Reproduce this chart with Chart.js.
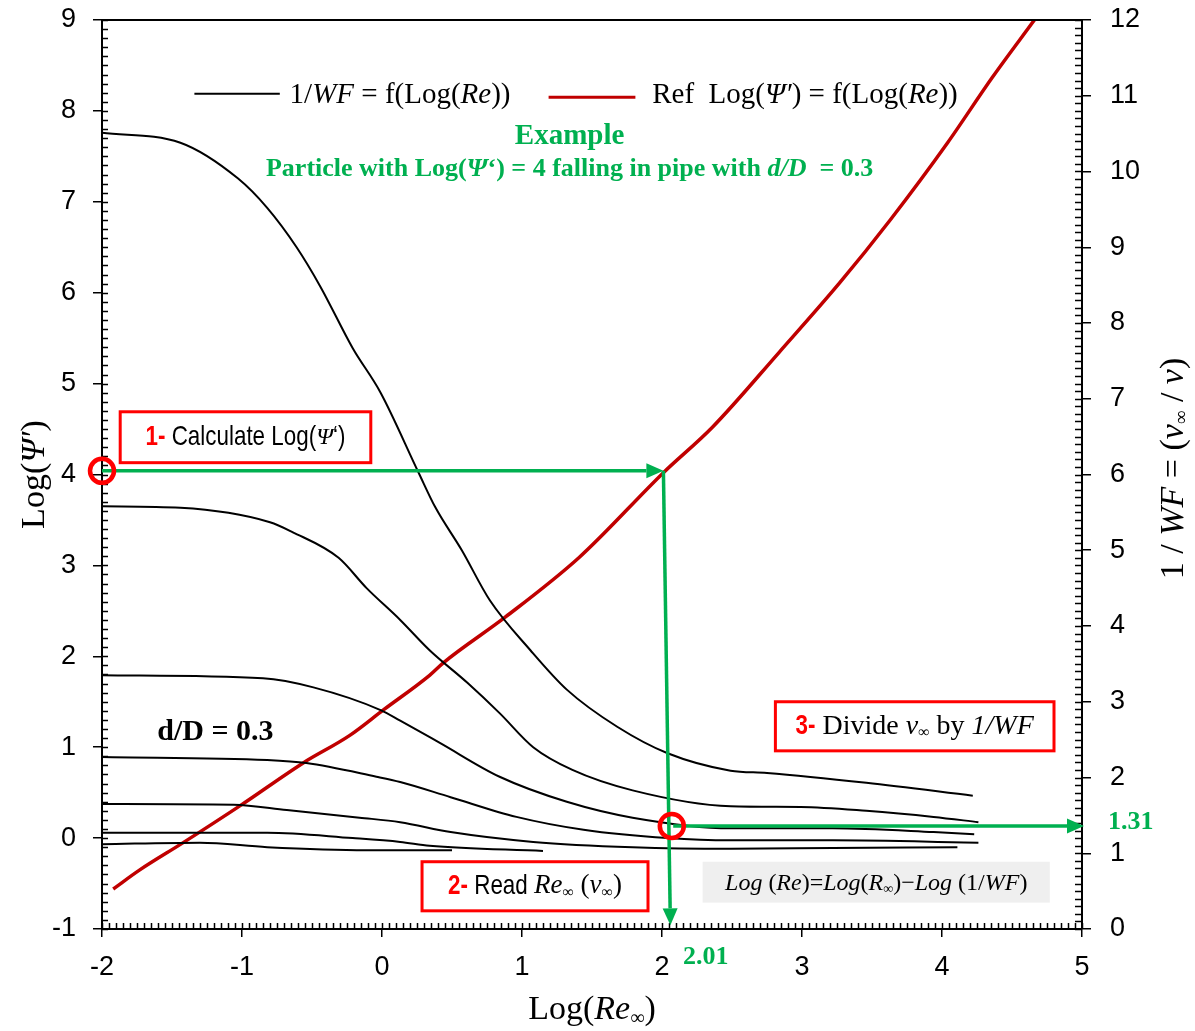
<!DOCTYPE html>
<html>
<head>
<meta charset="utf-8">
<script src="https://cdn.jsdelivr.net/npm/chart.js@4.4.1/dist/chart.umd.min.js"></script>
<style>
  html, body { margin: 0; padding: 0; background: #fff; }
  #wrap { width: 1195px; height: 1031px; position: relative; }
</style>
</head>
<body>
<div id="wrap"><canvas id="chart"></canvas></div>
<script>
// ---- data ----
// black curves: 1/WF vs Log(Re)  (right axis)
const wfX1 = [-2.00, -1.44, -1.03, -0.82, -0.61, -0.44, -0.21, -0.01, 0.26, 0.38, 0.57, 0.77, 1.06, 1.32, 1.68, 2.04, 2.49, 2.75, 3.46, 4.22];
const wfY1 = [10.51, 10.38, 9.91, 9.52, 9.00, 8.48, 7.67, 7.08, 6.03, 5.57, 5.00, 4.34, 3.68, 3.16, 2.67, 2.32, 2.09, 2.06, 1.93, 1.76];
const wfX2 = [-2.00, -1.44, -0.80, -0.64, -0.31, -0.11, 0.13, 0.34, 0.61, 0.84, 1.08, 1.36, 1.79, 2.49, 2.99, 3.46, 3.94, 4.26];
const wfY2 = [5.58, 5.56, 5.37, 5.24, 4.90, 4.50, 4.08, 3.68, 3.25, 2.85, 2.40, 2.10, 1.83, 1.62, 1.61, 1.56, 1.48, 1.41];
const wfX3 = [-2.00, -0.85, -0.49, -0.01, 0.13, 0.41, 0.84, 1.32, 1.79, 2.49, 3.22, 3.94, 4.23];
const wfY3 = [3.35, 3.31, 3.19, 2.89, 2.75, 2.46, 2.01, 1.68, 1.47, 1.33, 1.33, 1.28, 1.25];
const wfX4 = [-2.00, -0.82, -0.54, -0.04, 0.13, 0.49, 0.96, 1.44, 2.04, 2.49, 3.22, 4.26];
const wfY4 = [2.27, 2.23, 2.19, 2.01, 1.94, 1.74, 1.48, 1.31, 1.20, 1.17, 1.17, 1.14];
const wfX5 = [-2.00, -1.06, -0.68, -0.16, 0.13, 0.49, 1.08, 1.79, 2.49, 3.22, 4.11];
const wfY5 = [1.65, 1.64, 1.57, 1.47, 1.41, 1.28, 1.15, 1.08, 1.06, 1.07, 1.08];
const wfX6 = [-2.00, -0.82, -0.21, 0.13, 0.34, 1.15];
const wfY6 = [1.27, 1.27, 1.20, 1.15, 1.10, 1.03];
const wfX7 = [-2.00, -1.30, -0.82, -0.11, 0.50];
const wfY7 = [1.12, 1.14, 1.08, 1.04, 1.04];

// red curve: reference Log(Psi') vs Log(Re)  (left axis)
const refX = [-1.92, -1.73, -1.42, -1.01, -0.56, -0.23, 0.01, 0.34, 0.44, 0.88, 1.41, 2.01, 2.36, 2.84, 3.27, 3.63, 4.04, 4.36, 4.66];
const refY = [-0.56, -0.35, -0.05, 0.36, 0.83, 1.13, 1.41, 1.79, 1.93, 2.43, 3.09, 4.02, 4.52, 5.35, 6.11, 6.80, 7.65, 8.37, 9.00];

// worked example (Log(Psi') = 4 -> Log(Re) = 2.01 -> 1/WF = 1.31)
const exLogPsi = 4.04;
const exLogRe = [2.01, 2.06];
const exWF = 1.36;

const SERIF = '"Liberation Serif", "Times New Roman", serif';
const SANS = '"Liberation Sans", Arial, sans-serif';
const GREEN = '#00B050';
const RED = '#FF0000';
const NX = 0.8; // horizontal squeeze to fake a narrow sans

const toPts = (xs, ys) => xs.map((x, i) => ({ x, y: ys[i] }));

function wfSet(xs, ys) {
  return {
    data: toPts(xs, ys), yAxisID: 'y2',
    borderColor: '#000', borderWidth: 2, pointRadius: 0,
    cubicInterpolationMode: 'monotone', fill: false
  };
}

function rich(ctx, x, y, parts, align) {
  let w = 0;
  parts.forEach(p => { ctx.font = p.f; w += ctx.measureText(p.t).width * (p.sx || 1); });
  let cx = align === 'center' ? x - w / 2 : align === 'right' ? x - w : x;
  ctx.textAlign = 'left';
  ctx.textBaseline = 'middle';
  parts.forEach(p => {
    const sx = p.sx || 1;
    ctx.font = p.f;
    ctx.fillStyle = p.c || '#000';
    ctx.save();
    ctx.translate(cx, y + (p.dy || 0));
    ctx.scale(sx, 1);
    ctx.fillText(p.t, 0, 0);
    ctx.restore();
    cx += ctx.measureText(p.t).width * sx;
  });
}

function arrow(ctx, x1, y1, x2, y2) {
  const a = Math.atan2(y2 - y1, x2 - x1), L = 17, W = 7.5;
  ctx.beginPath();
  ctx.moveTo(x1, y1);
  ctx.lineTo(x2 - L * Math.cos(a), y2 - L * Math.sin(a));
  ctx.stroke();
  ctx.beginPath();
  ctx.moveTo(x2, y2);
  ctx.lineTo(x2 - L * Math.cos(a) + W * Math.sin(a), y2 - L * Math.sin(a) - W * Math.cos(a));
  ctx.lineTo(x2 - L * Math.cos(a) - W * Math.sin(a), y2 - L * Math.sin(a) + W * Math.cos(a));
  ctx.closePath();
  ctx.fill();
}

function box(ctx, x1, y1, x2, y2) {
  ctx.fillStyle = '#fff';
  ctx.fillRect(x1, y1, x2 - x1, y2 - y1);
  ctx.strokeStyle = RED;
  ctx.lineWidth = 3;
  ctx.strokeRect(x1, y1, x2 - x1, y2 - y1);
}

const decor = {
  id: 'decor',
  afterDraw(chart) {
    const { ctx, chartArea: ca, scales } = chart;
    const X = scales.x, Y = scales.y, Y2 = scales.y2;
    const px = v => X.getPixelForValue(v);
    const py = v => Y.getPixelForValue(v);
    const py2 = v => Y2.getPixelForValue(v);
    ctx.save();

    // frame top + inner ticks
    ctx.strokeStyle = '#000';
    ctx.lineWidth = 2;
    ctx.beginPath();
    ctx.moveTo(ca.left, ca.top); ctx.lineTo(ca.right, ca.top);
    ctx.stroke();
    ctx.lineWidth = 1.5;
    ctx.beginPath();
    for (let i = 0; i <= 100; i++) {
      const y = Math.round(py(-1 + i * 0.1)) + 0.5;
      ctx.moveTo(ca.left, y); ctx.lineTo(ca.left + 6, y);
    }
    for (let i = 0; i <= 120; i++) {
      const y = Math.round(py2(i * 0.1)) + 0.5;
      ctx.moveTo(ca.right, y); ctx.lineTo(ca.right - 7, y);
    }
    for (let i = 0; i <= 140; i++) {
      const x = Math.round(px(-2 + i * 0.05)) + 0.5;
      ctx.moveTo(x, ca.bottom); ctx.lineTo(x, ca.bottom - 6);
    }
    ctx.stroke();

    // legend
    const LF = 29;
    ctx.lineWidth = 2;
    ctx.strokeStyle = '#000';
    ctx.beginPath(); ctx.moveTo(px(-1.34), py(8.19)); ctx.lineTo(px(-0.73), py(8.19)); ctx.stroke();
    rich(ctx, px(-0.66), py(8.17), [
      { t: '1/', f: `${LF}px ${SERIF}` }, { t: 'WF', f: `italic ${LF}px ${SERIF}` },
      { t: ' = f(Log(', f: `${LF}px ${SERIF}` }, { t: 'Re', f: `italic ${LF}px ${SERIF}` },
      { t: '))', f: `${LF}px ${SERIF}` }
    ], 'left');
    ctx.lineWidth = 3;
    ctx.strokeStyle = '#C00000';
    ctx.beginPath(); ctx.moveTo(px(1.19), py(8.15)); ctx.lineTo(px(1.81), py(8.15)); ctx.stroke();
    rich(ctx, px(1.93), py(8.17), [
      { t: 'Ref  Log(', f: `${LF}px ${SERIF}` }, { t: 'Ψ′', f: `italic ${LF}px ${SERIF}` },
      { t: ') = f(Log(', f: `${LF}px ${SERIF}` }, { t: 'Re', f: `italic ${LF}px ${SERIF}` },
      { t: '))', f: `${LF}px ${SERIF}` }
    ], 'left');

    // green example title
    rich(ctx, px(1.34), py(7.72), [{ t: 'Example', f: `bold 29px ${SERIF}`, c: GREEN }], 'center');
    rich(ctx, px(1.34), py(7.36), [
      { t: 'Particle with Log(', f: `bold 26px ${SERIF}`, c: GREEN },
      { t: 'Ψ', f: `bold italic 26px ${SERIF}`, c: GREEN },
      { t: '‘) = 4 falling in pipe with ', f: `bold 26px ${SERIF}`, c: GREEN },
      { t: 'd/D', f: `bold italic 26px ${SERIF}`, c: GREEN },
      { t: '  = 0.3', f: `bold 26px ${SERIF}`, c: GREEN }
    ], 'center');

    rich(ctx, px(-1.19), py(1.16), [{ t: 'd/D = 0.3', f: `bold 30px ${SERIF}` }], 'center');

    // formula box
    ctx.fillStyle = '#efefef';
    ctx.fillRect(px(2.29), py(-0.26), px(4.77) - px(2.29), py(-0.71) - py(-0.26));
    const FF = 24;
    rich(ctx, (px(2.29) + px(4.77)) / 2, py(-0.5), [
      { t: 'Log', f: `italic ${FF}px ${SERIF}` }, { t: ' (', f: `${FF}px ${SERIF}` },
      { t: 'Re', f: `italic ${FF}px ${SERIF}` }, { t: ')=', f: `${FF}px ${SERIF}` },
      { t: 'Log', f: `italic ${FF}px ${SERIF}` }, { t: '(', f: `${FF}px ${SERIF}` },
      { t: 'R', f: `italic ${FF}px ${SERIF}` }, { t: '∞', f: `14px ${SERIF}`, dy: 6 },
      { t: ')−', f: `${FF}px ${SERIF}` }, { t: 'Log', f: `italic ${FF}px ${SERIF}` },
      { t: ' (1/', f: `${FF}px ${SERIF}` }, { t: 'WF', f: `italic ${FF}px ${SERIF}` },
      { t: ')', f: `${FF}px ${SERIF}` }
    ], 'center');

    // example arrows
    ctx.strokeStyle = GREEN;
    ctx.fillStyle = GREEN;
    ctx.lineWidth = 3.5;
    arrow(ctx, px(-2), py(exLogPsi), px(exLogRe[0]), py(exLogPsi));
    arrow(ctx, px(exLogRe[0]), py(exLogPsi), px(exLogRe[1]), py(-0.96));
    arrow(ctx, px(2.08), py2(exWF), ca.right + 2, py2(exWF));

    // red circles
    ctx.strokeStyle = RED;
    ctx.lineWidth = 4.5;
    ctx.beginPath(); ctx.arc(px(-2), py(exLogPsi), 12, 0, Math.PI * 2); ctx.stroke();
    ctx.beginPath(); ctx.arc(px(2.07), py2(exWF), 12, 0, Math.PI * 2); ctx.stroke();

    // numbered step boxes
    box(ctx, px(-1.87), py(4.69), px(-0.08), py(4.13));
    rich(ctx, (px(-1.87) + px(-0.08)) / 2, py(4.41), [
      { t: '1-', f: `bold 28px ${SANS}`, c: RED, sx: NX },
      { t: ' Calculate Log(', f: `28px ${SANS}`, sx: NX },
      { t: 'Ψ', f: `italic 24px ${SERIF}` },
      { t: '‘)', f: `28px ${SANS}`, sx: NX }
    ], 'center');

    box(ctx, px(0.286), py(-0.26), px(1.90), py(-0.80));
    rich(ctx, (px(0.286) + px(1.90)) / 2, py(-0.53), [
      { t: '2-', f: `bold 28px ${SANS}`, c: RED, sx: NX },
      { t: ' Read ', f: `28px ${SANS}`, sx: NX },
      { t: 'Re', f: `italic 27px ${SERIF}` },
      { t: '∞', f: `16px ${SERIF}`, dy: 7 },
      { t: ' (', f: `27px ${SERIF}` },
      { t: 'v', f: `italic 27px ${SERIF}` },
      { t: '∞', f: `16px ${SERIF}`, dy: 7 },
      { t: ')', f: `27px ${SERIF}` }
    ], 'center');

    box(ctx, px(2.81), py(1.50), px(4.80), py(0.96));
    rich(ctx, (px(2.81) + px(4.80)) / 2, py(1.23), [
      { t: '3-', f: `bold 28px ${SANS}`, c: RED, sx: NX },
      { t: ' Divide ', f: `28px ${SERIF}` },
      { t: 'v', f: `italic 28px ${SERIF}` },
      { t: '∞', f: `16px ${SERIF}`, dy: 7 },
      { t: ' by ', f: `28px ${SERIF}` },
      { t: '1/WF', f: `italic 28px ${SERIF}` }
    ], 'center');

    // green readouts
    rich(ctx, px(2.15), ca.bottom + 28, [{ t: '2.01', f: `bold 26px ${SERIF}`, c: GREEN }], 'left');
    rich(ctx, ca.right + 26, py2(exWF) - 4, [{ t: '1.31', f: `bold 26px ${SERIF}`, c: GREEN }], 'left');

    // axis titles
    const midY = (ca.top + ca.bottom) / 2;
    ctx.save();
    ctx.translate(35, midY);
    ctx.rotate(-Math.PI / 2);
    rich(ctx, 0, 0, [
      { t: 'Log(', f: `34px ${SERIF}` }, { t: 'Ψ′', f: `italic 34px ${SERIF}` }, { t: ')', f: `34px ${SERIF}` }
    ], 'center');
    ctx.restore();

    ctx.save();
    ctx.translate(ca.right + 92, midY - 6);
    ctx.rotate(-Math.PI / 2);
    rich(ctx, 0, 0, [
      { t: '1 / ', f: `34px ${SERIF}` }, { t: 'WF', f: `italic 34px ${SERIF}` },
      { t: ' = (', f: `34px ${SERIF}` }, { t: 'v', f: `italic 34px ${SERIF}` },
      { t: '∞', f: `19px ${SERIF}`, dy: 8 }, { t: ' / ', f: `34px ${SERIF}` },
      { t: 'v', f: `italic 34px ${SERIF}` }, { t: ')', f: `34px ${SERIF}` }
    ], 'center');
    ctx.restore();

    rich(ctx, (ca.left + ca.right) / 2, 1010, [
      { t: 'Log(', f: `34px ${SERIF}` }, { t: 'Re', f: `italic 34px ${SERIF}` },
      { t: '∞', f: `20px ${SERIF}`, dy: 9 }, { t: ')', f: `34px ${SERIF}` }
    ], 'center');

    ctx.restore();
  }
};

const tickFont = { family: SANS, size: 27 };
const axisGrid = { display: true, drawOnChartArea: false, drawTicks: true, tickLength: 9, color: '#000', lineWidth: 1.5 };
const axisBorder = { display: true, color: '#000', width: 2 };

// fixed axis band sizes so the plot box matches the figure
const fitV = w => s => { s.width = w; s.paddingTop = 0; s.paddingBottom = 0; };

new Chart(document.getElementById('chart'), {
  type: 'line',
  data: {
    datasets: [
      wfSet(wfX1, wfY1), wfSet(wfX2, wfY2), wfSet(wfX3, wfY3), wfSet(wfX4, wfY4),
      wfSet(wfX5, wfY5), wfSet(wfX6, wfY6), wfSet(wfX7, wfY7),
      {
        data: toPts(refX, refY), yAxisID: 'y',
        borderColor: '#C00000', borderWidth: 3.5, pointRadius: 0,
        cubicInterpolationMode: 'monotone', fill: false
      }
    ]
  },
  options: {
    responsive: true,
    maintainAspectRatio: false,
    animation: false,
    layout: { padding: { top: 20, left: 0, right: 0, bottom: 0 } },
    plugins: { legend: { display: false }, tooltip: { enabled: false } },
    scales: {
      x: {
        type: 'linear', min: -2, max: 5,
        ticks: { stepSize: 1, font: tickFont, color: '#000', padding: 14 },
        grid: { ...axisGrid, tickLength: 8 },
        border: axisBorder,
        afterFit: s => { s.height = 102; s.paddingLeft = 0; s.paddingRight = 0; }
      },
      y: {
        position: 'left', min: -1, max: 9,
        ticks: { stepSize: 1, font: tickFont, color: '#000', padding: 17 },
        grid: axisGrid,
        border: axisBorder,
        afterFit: fitV(102)
      },
      y2: {
        position: 'right', min: 0, max: 12,
        ticks: { stepSize: 1, font: tickFont, color: '#000', padding: 19 },
        grid: axisGrid,
        border: axisBorder,
        afterFit: fitV(113)
      }
    }
  },
  plugins: [decor]
});
</script>
</body>
</html>
